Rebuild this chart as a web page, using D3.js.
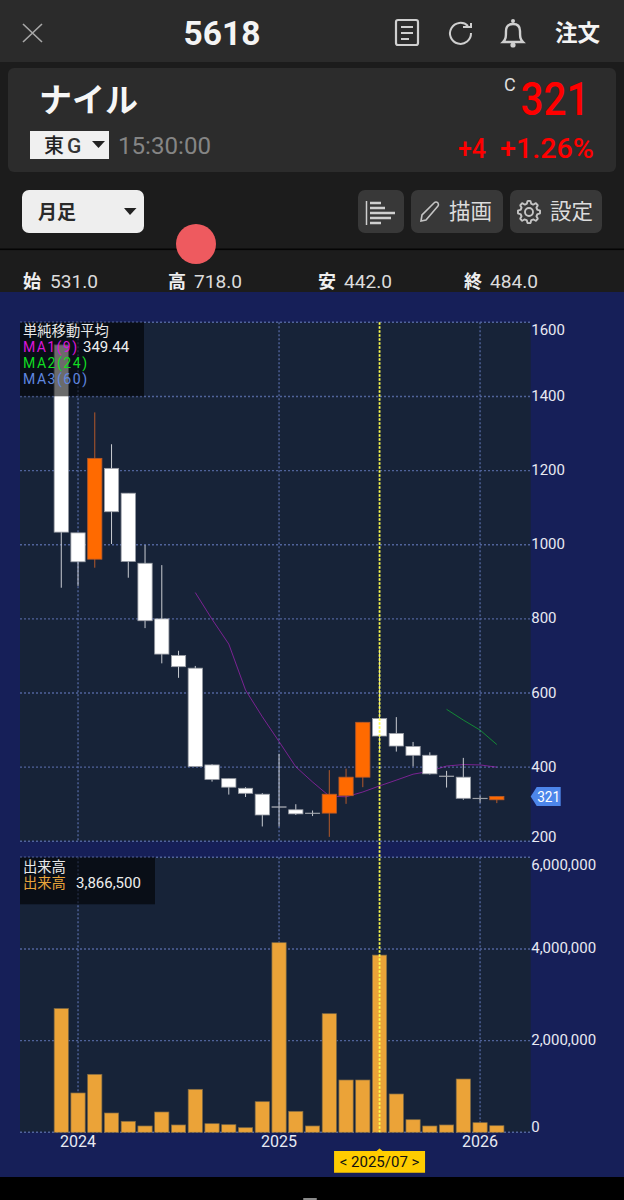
<!DOCTYPE html>
<html lang="ja">
<head>
<meta charset="utf-8">
<title>5618 ナイル 月足</title>
<script src="https://cdn.jsdelivr.net/npm/d3@7"></script>
<style>
  html, body { margin: 0; padding: 0; background: #1c1c1c; }
  svg { display: block; }
  text { font-family: Roboto, "Noto Sans CJK JP", sans-serif; }
  .jp { font-family: "Noto Sans CJK JP", sans-serif; }
</style>
</head>
<body>
<div id="chart"></div>
<script>
// 月足 2023/12 - 2026/02
const months = ['2023/12','2024/01','2024/02','2024/03','2024/04','2024/05','2024/06','2024/07','2024/08',
  '2024/09','2024/10','2024/11','2024/12','2025/01','2025/02','2025/03','2025/04','2025/05','2025/06',
  '2025/07','2025/08','2025/09','2025/10','2025/11','2025/12','2026/01','2026/02'];
const opens  = [1539,1032,961,1206,1139,950,800,701,667,406,369,343,327,293,285,276,276,323,373,531,491,456,432,376,373,316,312];
const highs  = [1539,1032,1357,1271,1139,999,945,714,673,408,369,346,330,436,300,283,392,396,521,718,535,468,440,390,425,323,321];
const lows   = [884,889,938,1002,911,775,680,641,402,361,326,319.5,240,240,271,268,212,301,346,442,442,402,380,345,312,304,303];
const closes = [1034,954,1233,1089,955,795,705,671,402,367,346,329.5,271,292,274,275,327,373,521,484,457,432,382,375,316,315,321];
const volumes = [2700000,858000,1265000,421000,240000,138000,443000,160000,938000,188000,166000,100000,668000,
  4137000,458000,138000,2588000,1141000,1141000,3866500,836000,275000,138000,160000,1163000,210000,144000];
// 移動平均 (null = 期間不足)
const ma1 = [null,null,null,null,null,null,null,null,871,799,732,608,536,469,401,360,322,320,333,349.44,365,381,389,403,407,406,400];
const ma2 = [null,null,null,null,null,null,null,null,null,null,null,null,null,null,null,null,null,null,null,null,null,null,null,556,527,500,461];

const priceTicks = [200,400,600,800,1000,1200,1400,1600];
const volumeTicks = [0,2000000,4000000,6000000];
const yearMonths = ['2024/01','2025/01','2026/01'];
const selectedMonth = '2025/07';
const ohlcLabels = ['始','高','安','終'];
const ohlcValues = ['531.0','718.0','442.0','484.0'];

const W = 624, H = 1200;
const plotL = 20, plotR = 530.7;
const priceTop = 322.3, priceBottom = 841.3;
const volTop = 857.3, volBottom = 1132.3;

const svg = d3.select('#chart').append('svg').attr('width', W).attr('height', H);

const rect = (g, x, y, w, h, fill, r) => g.append('rect')
  .attr('x', x).attr('y', y).attr('width', w).attr('height', h).attr('fill', fill).attr('rx', r || 0);

const label = (g, x, y, str, size, fill, opts) => {
  opts = opts || {};
  const t = g.append('text').attr('x', x).attr('y', y).attr('fill', fill)
    .attr('font-size', size).attr('font-weight', opts.weight || 400)
    .attr('text-anchor', opts.anchor || 'start').text(str);
  if (opts.jp) t.attr('class', 'jp');
  if (opts.len) t.attr('textLength', opts.len).attr('lengthAdjust', opts.adjust || 'spacingAndGlyphs');
  return t;
};

// ---- 上部ヘッダー ----
const head = svg.append('g');
rect(head, 0, 0, W, 62, '#2b2b2b');
rect(head, 0, 62, W, 230, '#1c1c1c');
rect(head, 8, 68, 608, 104, '#2c2c2c', 6);

head.append('path').attr('d', 'M23 24L42 42M42 24L23 42').attr('stroke', '#a8a8a8').attr('stroke-width', 1.6).attr('fill', 'none');
label(head, 222, 45, '5618', 34, '#f4f4f4', { anchor: 'middle', weight: 700, len: 77 });

// 書類アイコン
head.append('rect').attr('x', 396).attr('y', 20).attr('width', 22).attr('height', 25).attr('rx', 2)
  .attr('fill', 'none').attr('stroke', '#cfcfcf').attr('stroke-width', 2.2);
head.append('path').attr('d', 'M401 27H413M401 33H413M401 39H409').attr('stroke', '#cfcfcf').attr('stroke-width', 2);
// 更新アイコン
head.append('path').attr('d', 'M468 26A10.5 10.5 0 1 0 471 33').attr('fill', 'none').attr('stroke', '#cfcfcf').attr('stroke-width', 2);
head.append('path').attr('d', 'M463 27H471V23').attr('fill', 'none').attr('stroke', '#cfcfcf').attr('stroke-width', 2);
// ベルアイコン
head.append('path').attr('d', 'M503 42C506 39 506 37 506 31C506 26 509 24 513 24C517 24 520 26 520 31C520 37 520 39 523 42Z')
  .attr('fill', 'none').attr('stroke', '#cfcfcf').attr('stroke-width', 2.4);
head.append('circle').attr('cx', 513).attr('cy', 21).attr('r', 2).attr('fill', '#cfcfcf');
head.append('circle').attr('cx', 513).attr('cy', 45).attr('r', 2.6).attr('fill', '#cfcfcf');
label(head, 555, 41, '注文', 22.5, '#f4f4f4', { weight: 700, jp: true });

label(head, 39, 112, 'ナイル', 33, '#f6f6f6', { weight: 700, jp: true });
rect(head, 30, 131, 79, 28, '#f0f0f0');
label(head, 44, 152.5, '東', 20, '#222', { weight: 500, jp: true });
label(head, 67, 152.5, 'G', 21, '#333', { weight: 500 });
head.append('path').attr('d', 'M92 141H105L98.5 148Z').attr('fill', '#222');
label(head, 118, 154, '15:30:00', 24, '#858585', { len: 93 });

label(head, 504, 91, 'C', 18, '#dedede');
label(head, 520.5, 115, '321', 47, '#ff0000', { weight: 500, len: 69 });
label(head, 458, 158, '+4', 27, '#ff0000', { weight: 500, len: 28 });
label(head, 500, 158, '+1.26%', 27, '#ff0000', { weight: 500, len: 94 });

// ---- ツールバー ----
rect(head, 22, 190, 122, 43, '#eeeeee', 7);
label(head, 38, 219, '月足', 19, '#2a2a2a', { weight: 700, jp: true });
head.append('path').attr('d', 'M124 208H136.5L130 215Z').attr('fill', '#222');

rect(head, 358, 190, 46, 43, '#383838', 7);
rect(head, 411, 190, 92, 43, '#383838', 7);
rect(head, 510, 190, 92, 43, '#383838', 7);

head.append('path').attr('d', 'M366.5 201V225').attr('stroke', '#cfcfcf').attr('stroke-width', 1.5);
head.append('path').attr('d', 'M370 203H381M370 208H385M370 213H395M370 218H391M370 223H381')
  .attr('stroke', '#cfcfcf').attr('stroke-width', 2.4);
// 鉛筆
head.append('path').attr('d', 'M421 221L422 215L434 203C436 201 438 203 438 203C439 205 438 206 438 206L426 220Z')
  .attr('fill', 'none').attr('stroke', '#c4c4c4').attr('stroke-width', 1.6);
label(head, 449, 219, '描画', 21.5, '#dcdcdc', { jp: true });
// 歯車
const gearPoints = d3.range(0, 48).map(i => {
  const a = i / 48 * Math.PI * 2;
  return [a, Math.cos(a * 8) > 0 ? 11 : 8.6];
});
head.append('path').attr('transform', 'translate(529,212)')
  .attr('d', d3.lineRadial().curve(d3.curveCardinalClosed)(gearPoints))
  .attr('fill', 'none').attr('stroke', '#c4c4c4').attr('stroke-width', 1.9);
head.append('circle').attr('cx', 529).attr('cy', 212).attr('r', 4).attr('fill', 'none').attr('stroke', '#c4c4c4').attr('stroke-width', 1.9);
label(head, 550, 219, '設定', 21.5, '#dcdcdc', { jp: true });

rect(head, 0, 248.5, W, 1.6, '#050505');
head.append('circle').attr('cx', 196).attr('cy', 244).attr('r', 20).attr('fill', '#ee5a5f');

const ohlcTextX = [23, 168, 318, 464];
const ohlcValueX = [50, 194, 344, 490];
ohlcLabels.forEach((s, i) => {
  label(head, ohlcTextX[i], 288, s, 18, '#efefef', { weight: 700, jp: true });
  label(head, ohlcValueX[i], 288, ohlcValues[i], 19, '#dcdcdc', { len: 48 });
});

// ---- チャート領域 ----
const chart = svg.append('g');
rect(chart, 0, 292, W, 885, '#161f58');
rect(chart, 0, 1177, W, 23, '#000000');
rect(chart, 303, 1198, 14, 2, '#8a8a8a', 1);
rect(chart, plotL, priceTop, plotR - plotL, priceBottom - priceTop, '#172338');
rect(chart, plotL, volTop, plotR - plotL, volBottom - volTop, '#172338');

const x = d3.scaleBand().domain(months).range([52.9, 505.2]).paddingInner(0.15).paddingOuter(0.075);
const cx = m => x(m) + x.bandwidth() / 2;
const yPrice = d3.scaleLinear().domain([200, 1600]).range([priceBottom, priceTop]);
const yVol = d3.scaleLinear().domain([0, 6000000]).range([volBottom, volTop]);

const gridColor = '#50639a';
const drawGrid = (scale, ticks, top, bottom) => {
  const g = chart.append('g').attr('stroke', gridColor).attr('stroke-width', 1.4).attr('stroke-dasharray', '2 2');
  g.selectAll('line.h').data(ticks).join('line').attr('class', 'h')
    .attr('x1', plotL).attr('x2', plotR).attr('y1', d => scale(d)).attr('y2', d => scale(d));
  g.selectAll('line.v').data(yearMonths).join('line').attr('class', 'v')
    .attr('x1', d => cx(d)).attr('x2', d => cx(d)).attr('y1', top).attr('y2', bottom);
};
drawGrid(yPrice, priceTicks, priceTop, priceBottom);
drawGrid(yVol, volumeTicks, volTop, volBottom);

// 移動平均線
const maLine = d3.line().defined(d => d.v !== null).x(d => cx(d.m)).y(d => yPrice(d.v));
[[ma1, '#cc22dd', 0.55], [ma2, '#11cc33', 0.6]].forEach(([vals, color, op]) => {
  chart.append('path')
    .attr('d', maLine(vals.map((v, i) => ({ m: months[i], v }))))
    .attr('fill', 'none').attr('stroke', color).attr('stroke-opacity', op).attr('stroke-width', 1);
});

// ローソク足
const candles = months.map((m, i) => ({ m, o: opens[i], h: highs[i], l: lows[i], c: closes[i] }));
const isUp = d => d.c > d.o;
const candleG = chart.append('g');
candleG.selectAll('line').data(candles).join('line')
  .attr('x1', d => cx(d.m)).attr('x2', d => cx(d.m))
  .attr('y1', d => yPrice(d.h)).attr('y2', d => yPrice(d.l))
  .attr('stroke', d => isUp(d) ? '#b5592a' : '#c9ccd2').attr('stroke-width', 1);
candleG.selectAll('rect').data(candles).join('rect')
  .attr('x', d => x(d.m)).attr('width', x.bandwidth())
  .attr('y', d => yPrice(Math.max(d.o, d.c)))
  .attr('height', d => Math.abs(yPrice(d.o) - yPrice(d.c)))
  .attr('fill', d => isUp(d) ? '#ff6a00' : '#ffffff')
  .attr('stroke', d => isUp(d) ? '#b5592a' : '#9a9ea6').attr('stroke-width', 0.8);

// 出来高
chart.append('g').selectAll('rect').data(volumes).join('rect')
  .attr('x', (d, i) => x(months[i])).attr('width', x.bandwidth())
  .attr('y', d => yVol(d)).attr('height', d => yVol(0) - yVol(d))
  .attr('fill', '#eba338').attr('stroke', '#7f6a45').attr('stroke-width', 0.7);

// 選択カーソル
chart.append('line')
  .attr('x1', cx(selectedMonth)).attr('x2', cx(selectedMonth))
  .attr('y1', priceTop).attr('y2', volBottom)
  .attr('stroke', '#ffff4d').attr('stroke-width', 1.8).attr('stroke-dasharray', '2.5 1.5');

// 価格軸・出来高軸
const axisStyle = (g, nudge) => {
  g.select('.domain').remove();
  g.selectAll('.tick line').remove();
  g.selectAll('.tick text')
    .attr('font-family', 'Roboto').attr('font-size', 15).attr('fill', '#e8e9f2')
    .attr('dy', d => (0.32 * 15 + nudge(d)) + 'px');
};
chart.append('g').attr('transform', `translate(${plotR},0)`)
  .call(d3.axisRight(yPrice).tickValues(priceTicks).tickSize(0).tickPadding(0.5).tickFormat(d3.format('d')))
  .call(axisStyle, d => d === 1600 ? 7 : d === 200 ? -5 : -0.8);
chart.append('g').attr('transform', `translate(${plotR},0)`)
  .call(d3.axisRight(yVol).tickValues(volumeTicks).tickSize(0).tickPadding(0.5).tickFormat(d3.format(',')))
  .call(axisStyle, d => d === 6000000 ? 7.5 : d === 0 ? -5.3 : -1);

// 年ラベル
chart.append('g').attr('transform', `translate(0,${volBottom})`)
  .call(d3.axisBottom(x).tickValues(yearMonths).tickSize(0).tickPadding(3.5).tickFormat(d => d.slice(0, 4)))
  .call(g => {
    g.select('.domain').remove();
    g.selectAll('.tick text').attr('font-family', 'Roboto').attr('font-size', 16).attr('fill', '#e8e9f2');
  });

// 現在値タグ
const lastClose = closes[closes.length - 1];
const tagY = yPrice(lastClose);
chart.append('path')
  .attr('d', `M${plotR} ${tagY}L${plotR + 6} ${tagY - 9.5}H${plotR + 30}V${tagY + 9.5}H${plotR + 6}Z`)
  .attr('fill', '#4d86ea');
label(chart, plotR + 18, tagY + 5.5, String(lastClose), 15.5, '#ffffff', { anchor: 'middle', len: 23 });

// 日付タグ
const tagX = cx(selectedMonth);
chart.append('path')
  .attr('d', `M${tagX - 45.5} 1151H${tagX - 3}L${tagX} 1148.5L${tagX + 3} 1151H${tagX + 45.5}V1172.7H${tagX - 45.5}Z`)
  .attr('fill', '#ffcc00');
label(chart, tagX, 1167, `< ${selectedMonth} >`, 15, '#111111', { anchor: 'middle' });

// 凡例
const legend = svg.append('g');
rect(legend, plotL, priceTop, 124, 74, 'rgba(0,0,0,0.58)');
label(legend, 23, 336, '単純移動平均', 14.3, '#e8e8e8', { jp: true });
label(legend, 23, 352, 'MA1(9)', 14, '#d916d9', { len: 54, adjust: 'spacing' });
label(legend, 83, 352, ma1[months.indexOf(selectedMonth)].toFixed(2), 15, '#eeeeee');
label(legend, 23, 368, 'MA2(24)', 14, '#11dd22', { len: 64, adjust: 'spacing' });
label(legend, 23, 384, 'MA3(60)', 14, '#6088e0', { len: 64, adjust: 'spacing' });

rect(legend, plotL, volTop, 135, 47, 'rgba(0,0,0,0.58)');
label(legend, 23, 872, '出来高', 14.3, '#e8e8e8', { jp: true });
label(legend, 23, 887.5, '出来高', 14.3, '#e8a33a', { jp: true });
label(legend, 76, 887.5, d3.format(',')(volumes[months.indexOf(selectedMonth)]), 15, '#eeeeee');
</script>
</body>
</html>
